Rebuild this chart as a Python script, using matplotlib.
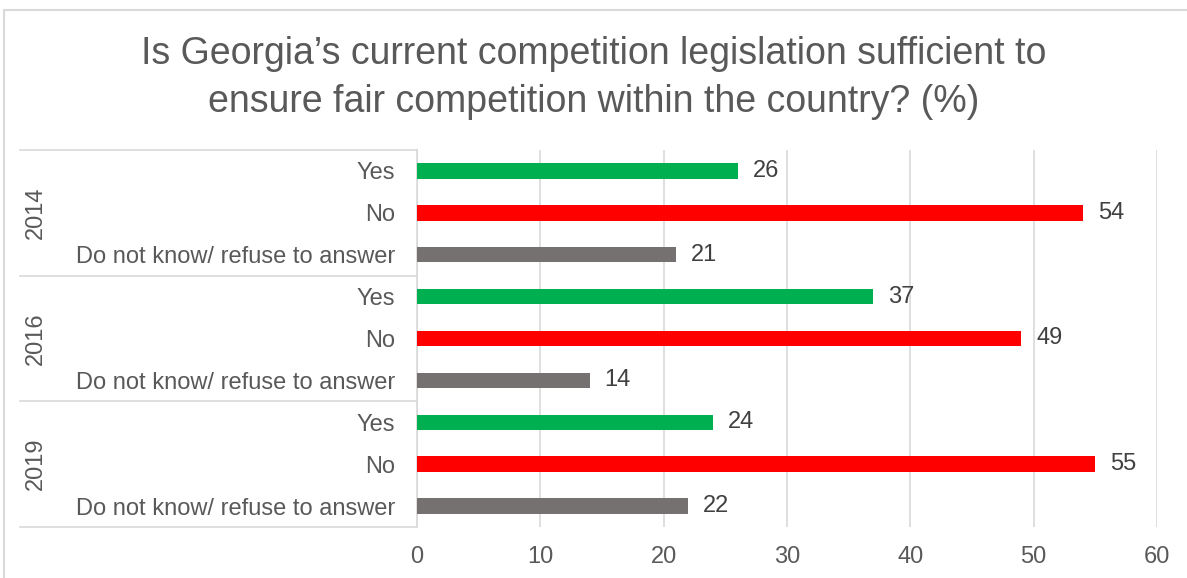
import matplotlib
matplotlib.use('Agg')
import matplotlib.pyplot as plt
import matplotlib.patches as pcs
import matplotlib.transforms as mtrans

plt.rcParams['font.family'] = ['Liberation Sans', 'DejaVu Sans']

years = ['2014', '2016', '2019']
answers = ['Yes', 'No', 'Do not know/ refuse to answer']
values = [
    [26, 54, 21],
    [37, 49, 14],
    [24, 55, 22],
]
answer_colors = ['#00b050', '#ff0000', '#767171']
x_ticks = [0, 10, 20, 30, 40, 50, 60]
title = ('Is Georgia\u2019s current competition legislation sufficient to\n'
         'ensure fair competition within the country? (%)')

text_color = '#595959'
label_color = '#404040'
line_color = '#d9d9d9'

W, H = 1187, 578
fig = plt.figure(figsize=(W / 100, H / 100), dpi=100)

# Chart frame
fig.patches.append(pcs.Rectangle((4 / W, -0.1), 1.2, 1 - 10 / H + 0.1,
                                 transform=fig.transFigure, fill=False,
                                 edgecolor=line_color, linewidth=1.5))

ax = fig.add_axes([417 / W, 1 - 527 / H, 740 / W, 377 / H])

pos = 0
ypos, labels = [], []
for g, year in enumerate(years):
    for i, ans in enumerate(answers):
        v = values[g][i]
        ax.barh(pos, v, height=0.37, color=answer_colors[i], zorder=3)
        ax.text(v + 1.2, pos, str(v), va='center', ha='left',
                fontsize=17, color=label_color)
        ypos.append(pos)
        labels.append(ans)
        pos += 1

ax.set_ylim(len(ypos) - 0.5, -0.5)
ax.set_xlim(0, 60)
ax.set_xticks(x_ticks)
ax.set_xticklabels([str(t) for t in x_ticks], fontsize=17, color=text_color)
ax.set_yticks(ypos)
ax.set_yticklabels(labels, fontsize=17, color=text_color)
ax.tick_params(axis='y', length=0, pad=15.5)
ax.tick_params(axis='x', length=0, pad=14)
ax.grid(axis='x', color=line_color, linewidth=1.2, zorder=0)
for s in ['top', 'right', 'bottom']:
    ax.spines[s].set_visible(False)
ax.spines['left'].set_color(line_color)
ax.spines['left'].set_linewidth(1.2)

# Group separators and year labels in the category area
trans = mtrans.blended_transform_factory(fig.transFigure, ax.transData)
n = len(answers)
for g in range(len(years) + 1):
    y = g * n - 0.5
    ax.plot([20 / W, 417 / W], [y, y], transform=trans, color=line_color,
            linewidth=1.2, clip_on=False)
for g, year in enumerate(years):
    ax.text(36 / W, g * n + (n - 1) / 2, year, transform=trans, rotation=90,
            ha='center', va='center', fontsize=17, color=text_color)

fig.text(0.5, 1 - 78 / H, title, ha='center', va='center', fontsize=27,
         color=text_color, linespacing=1.4)

fig.savefig('out.png', dpi=100)
